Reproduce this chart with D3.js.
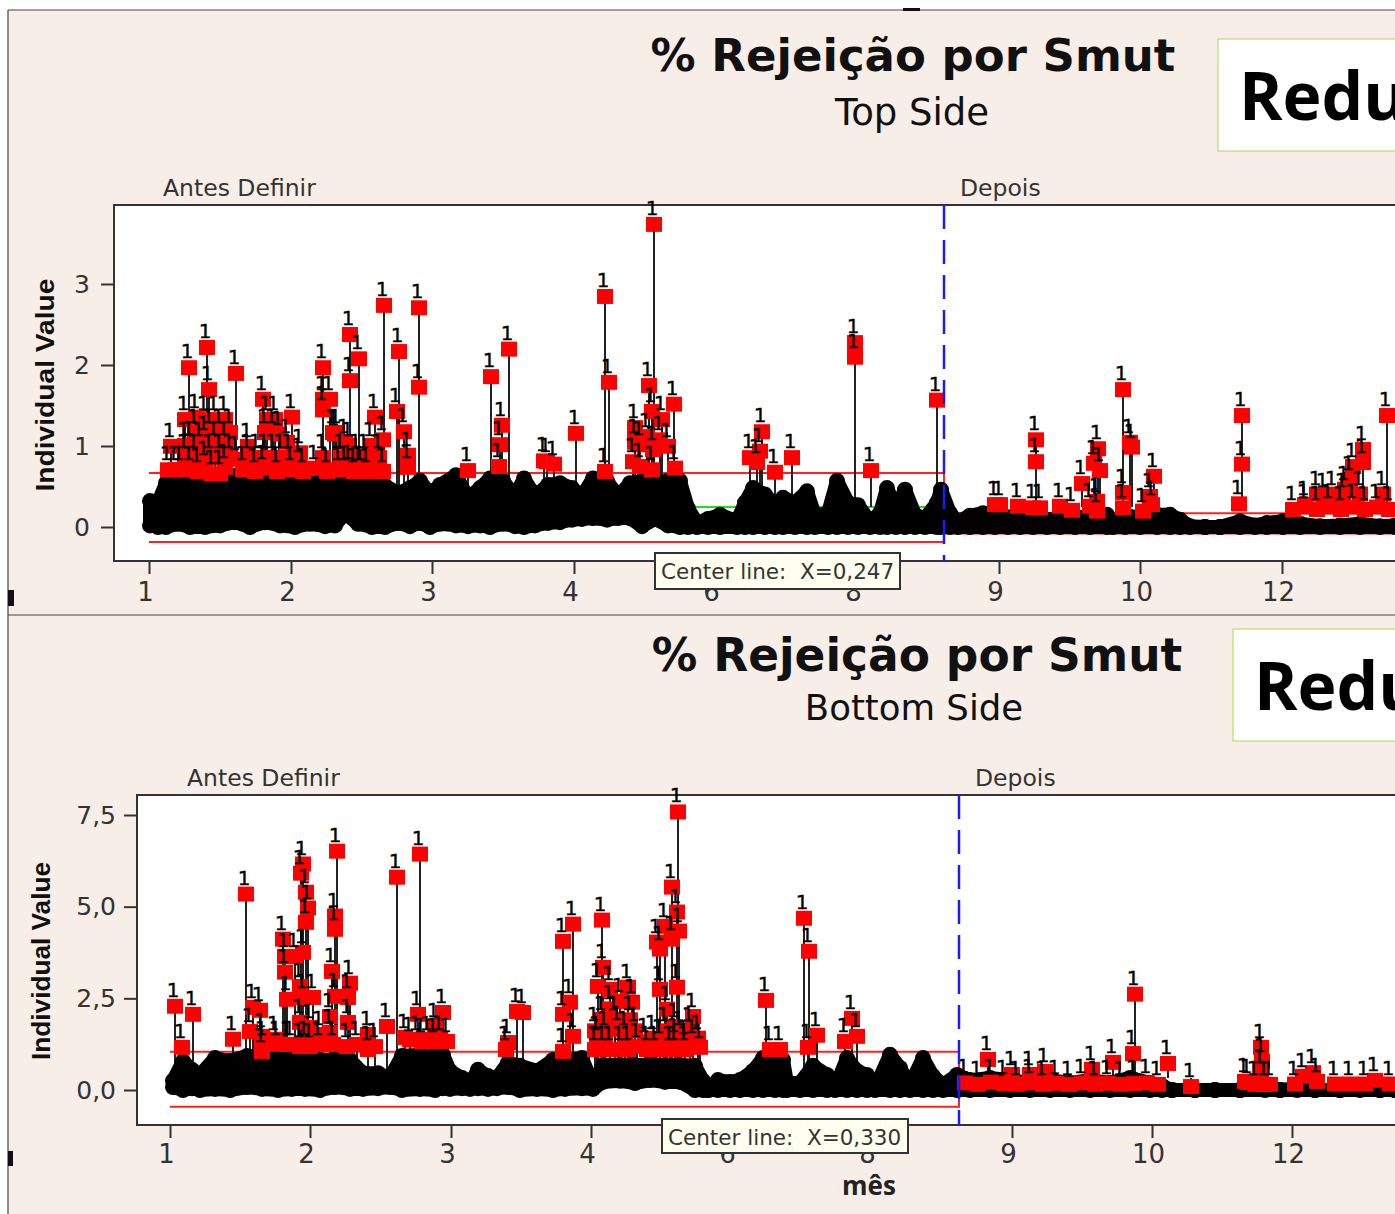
<!DOCTYPE html>
<html>
<head>
<meta charset="utf-8">
<title>% Rejeição por Smut</title>
<script src="https://cdn.jsdelivr.net/npm/d3@7"></script>
<style>
html, body { margin: 0; padding: 0; background: #fff; overflow: hidden; }
text { fill: #222; }
</style>
</head>
<body>
<svg id="chart" width="1395" height="1214"></svg>
<script>
var chartTitle = "% Rejeição por Smut";
var monthLabels = ["1", "2", "3", "4", "6", "8", "9", "10", "12"];

// TOP SIDE
var topTicksObs = [0, 142, 283, 425, 566, 708, 850, 991, 1133];
var topTicksY = [0, 1, 2, 3];
var topCenter = 0.247;
var topUcl = [0.667, 0.17];
var topLcl = [-0.185, -0.08];
var topCl = [0.247, 0.06];
var topPhaseObs = 795;

var topMassObs = [1, 9, 17, 29, 41, 56, 71, 86, 101, 116, 131, 146, 161, 176, 186, 196, 209, 223, 236, 249, 261, 271, 281, 291, 307, 319, 331, 341, 354, 366, 375, 386, 399, 411, 423, 433, 444, 458, 469, 481, 493, 506, 519, 531, 539, 548, 559, 571, 588, 596, 604, 616, 626, 634, 646, 658, 666, 679, 688, 699, 709, 721, 731, 738, 747, 756, 766, 776, 788, 792, 801, 809, 821, 834, 846, 859, 871, 884, 898, 911, 926, 941, 958, 964, 976, 991, 1008, 1021, 1031, 1041, 1056, 1071, 1091, 1106, 1118, 1134, 1151, 1171, 1191, 1211, 1231, 1246];
var topMassHi = [.32, .30, .54, .54, .57, .54, .57, .63, .54, .57, .54, .57, .54, .57, .54, .57, .54, .51, .51, .42, .48, .57, .41, .52, .64, .36, .48, .60, .57, .38, .60, .38, .52, .54, .48, .38, .60, .57, .38, .54, .57, .54, .57, .57, .23, .05, .10, .15, .07, .30, .48, .40, .27, .36, .30, .44, .14, .17, .57, .30, .27, .07, .17, .48, .23, .46, .15, .11, .30, .46, .17, .07, .14, .17, .17, .12, .14, .15, .09, .12, .11, .14, .15, .05, .15, .11, .15, .15, .09, .01, 0, 0, .07, .02, .05, .07, .04, .01, .02, .04, .01, .02];
var topMassLo = [.02, 0, 0, .04, 0, 0, .02, .06, 0, .06, .02, 0, .04, .01, .02, .17, .04, 0, 0, .05, .01, .05, 0, .04, .02, .01, .02, 0, .04, .01, 0, .02, .05, .06, .09, .10, .11, .09, .11, .11, .01, .10, .02, 0, 0, 0, 0, 0, 0, 0, 0, 0, 0, 0, 0, 0, 0, 0, 0, 0, 0, 0, 0, 0, 0, 0, 0, 0, 0, 0, 0, 0, 0, 0, 0, 0, 0, 0, 0, 0, 0, 0, 0, 0, 0, 0, 0, 0, 0, 0, 0, 0, 0, 0, 0, 0, 0, 0, 0, 0, 0, 0];

var topRedObs = [40, 58, 60, 87, 235, 270, 250, 270, 201, 210, 201, 174, 174, 181, 174, 248, 255, 259, 259, 234, 234, 226, 342, 360, 353, 351, 350, 319, 395,
  143, 114, 36, 22, 19, 26, 31, 41, 41, 49, 47, 56, 56, 56, 63, 66, 66, 71, 76, 76, 76, 87,
  36, 46, 51, 61, 71, 81, 81, 61, 71, 46, 36,
  94, 99, 106, 114, 118, 126, 128, 130, 138, 142, 151, 154, 166, 178, 190, 200, 205, 212, 218, 186, 196, 196, 210,
  99, 108, 116, 116, 124, 124, 132, 140, 150, 174, 184, 188, 192, 200, 208, 216, 222, 230,
  505, 456, 460, 427, 398, 405, 456, 500, 525, 513, 486, 486, 503, 484, 491, 503, 504, 519, 526, 498, 491, 511,
  706, 706, 722, 788, 613, 601, 611, 608, 626, 643,
  974, 887, 887, 846, 851, 869, 884, 891, 911, 923, 933, 949, 945, 951, 948, 941, 948, 974, 974, 981, 983, 994, 1005, 1001, 1003, 1093, 1093, 1090, 1238,
  1144, 1156, 1168, 1180, 1192, 1204, 1216, 1228, 1240, 1168, 1184, 1196, 1204, 1214, 1214, 1201, 1194, 1234, 1211, 1175, 1156];
var topRedVal = [1.96, 2.21, 1.69, 1.89, 2.73, 2.70, 2.16, 1.72, 2.37, 2.07, 1.80, 1.96, 1.57, 1.57, 1.44, 1.42, 1.17, .88, .73, .68, 1.07, 1.35, 1.85, 2.19, 1.25, 1.01, .74, .69, .81,
  1.35, 1.57, 1.32, .99, .70, .70, .70, .70, 1.01, .68, 1.35, 1.32, 1.07, .77, .65, 1.32, 1.01, .65, 1.32, 1.01, .73, .83,
  1.0, 1.16, 1.0, 1.16, 1.16, 1.16, .85, .85, .85, .85, .85,
  .70, .99, .68, .72, 1.32, 1.32, .68, 1.14, 1.04, .70, .91, .68, .72, .68, .70, .72, .68, .70, .68, 1.14, 1.04, .70, .70,
  .85, .85, .85, 1.16, 1.16, .85, .85, .85, .80, .85, 1.16, 1.16, .85, 1.0, .85, .85, 1.0, .85,
  3.73, 2.84, 1.78, 1.15, .80, .77, .68, 1.74, 1.51, 1.32, 1.22, 1.04, 1.42, .80, .74, .70, .95, .99, .72, 1.11, 1.01, 1.07,
  2.27, 2.09, .69, 1.56, 1.17, .85, .93, .79, .67, .85,
  1.69, 1.07, .80, .27, .27, .25, .23, .23, .25, .20, .53, .96, .78, .69, .31, .25, .19, .42, .23, 1.04, .98, .19, .62, .37, .27, 1.37, .77, .28, 1.37,
  .21, .24, .21, .24, .21, .24, .21, .24, .21, .40, .40, .46, .74, .95, .79, .58, .37, .40, .40, .37, .27];

// BOTTOM SIDE
var bottomTicksObs = [0, 140, 281, 421, 561, 701, 842, 982, 1122];
var bottomTicksY = [0, 2.5, 5, 7.5];
var bottomCenter = 0.33;
var bottomUcl = [1.04, 0.14];
var bottomLcl = [-0.46, 0];
var bottomCl = [0.33, 0.05];
var bottomPhaseObs = 789;

var bottomMassObs = [3, 13, 22, 30, 45, 60, 77, 92, 108, 122, 135, 150, 165, 180, 193, 208, 220, 232, 250, 265, 273, 280, 292, 300, 308, 318, 327, 338, 350, 367, 383, 395, 412, 423, 433, 450, 465, 480, 495, 510, 525, 533, 538, 548, 560, 570, 583, 593, 605, 613, 617, 630, 643, 657, 665, 677, 687, 697, 705, 720, 730, 740, 753, 763, 773, 787, 800, 820, 840, 860, 880, 900, 920, 940, 960, 980, 992, 1002, 1025, 1045, 1070, 1095, 1110, 1127, 1145, 1170, 1190, 1210, 1225];
var bottomMassHi = [.25, .79, .55, .41, .87, .79, .93, .93, .87, .82, .82, .82, .82, .82, .46, .46, .33, .93, .96, .96, .96, .52, .33, .19, .55, .38, .33, .74, .66, .52, .82, .82, .87, .14, .68, .68, .68, .68, .68, .68, .66, .25, 0, .27, .22, .27, .52, .87, .74, .82, .19, .19, .66, .41, .05, .87, .52, .41, .05, .96, .60, .14, .87, .38, .14, .41, .27, .33, .27, .19, .27, .19, .27, .19, .33, .19, .11, 0, 0, 0, 0, .11, 0, .05, 0, 0, .05, 0, 0];
var bottomMassLo = [.08, 0, .05, 0, .03, 0, .08, .03, 0, .03, .03, 0, .08, .03, .03, .05, .08, 0, .03, 0, .05, .03, .05, .03, .05, .03, .05, .08, 0, .03, 0, .03, .05, .03, .22, .25, .19, .27, .22, .22, 0, 0, 0, 0, 0, 0, 0, 0, 0, 0, 0, 0, 0, 0, 0, 0, 0, 0, 0, 0, 0, 0, 0, 0, 0, 0, 0, 0, 0, 0, 0, 0, 0, 0, 0, 0, 0, 0, 0, 0, 0, 0, 0, 0, 0, 0, 0, 0, 0];

var bottomRedObs = [5, 23, 12, 76, 63, 80, 83, 90, 92, 92, 105, 113, 115, 115, 117, 133, 131, 136, 138, 136, 133, 125, 130, 133, 143, 130, 140, 130, 140, 118,
  167, 165, 165, 162, 180, 165, 178, 160, 178, 160, 150, 177, 198, 198, 205, 217, 227, 250, 235, 248, 247, 258, 265, 273, 270, 277, 336, 338, 347, 353,
  93, 107, 121, 135, 149, 163, 187, 240, 252, 264,
  393, 403, 400, 393, 403, 393,
  508, 502, 507, 509, 495, 502, 487, 490, 507, 490, 497, 505, 523, 505, 490, 523, 530, 432, 433, 428, 440, 458, 462, 432, 433, 427, 450, 467, 477, 448, 425, 440, 458, 485, 515,
  435, 445, 455, 465, 475, 483, 440, 450, 460, 425, 510, 520, 528, 515, 495, 505, 500,
  596, 600, 610, 634, 639, 647, 638, 682, 687, 675,
  795, 808, 821, 834, 847, 860, 873, 886, 899, 912, 925, 938, 951, 964, 977, 988,
  965, 963, 943, 922, 818, 842, 998, 1021, 860, 875, 1091, 1092, 1091, 1078, 1095, 1075, 1085, 1100, 1133, 1143, 1147, 1205, 1165, 1180, 1195, 1220, 1125];
var bottomRedVal = [2.27, 2.05, 1.15, 5.33, 1.37, 1.58, 2.24, 2.16, 1.04, 1.45, 1.37, 4.10, 3.63, 3.20, 2.46, 6.15, 5.90, 5.38, 4.95, 4.56, 3.74, 3.63, 2.81, 2.51, 2.51, 1.83, 1.69, 1.17, 1.17, 1.23,
  6.50, 4.73, 4.37, 3.22, 2.90, 2.54, 2.51, 1.99, 1.83, 1.56, 1.50, 1.17, 1.50, 1.09, 1.17, 1.72, 5.79, 6.42, 1.42, 2.05, 1.37, 1.37, 1.72, 2.10, 1.37, 1.31, 1.09, 1.28, 2.13, 2.10,
  1.23, 1.23, 1.23, 1.23, 1.23, 1.23, 1.23, 1.35, 1.30, 1.30,
  4.04, 4.51, 2.38, 2.05, 1.45, 1.04,
  7.57, 5.52, 4.84, 4.32, 4.45, 4.10, 4.02, 3.83, 2.79, 2.73, 2.19, 1.72, 1.99, 1.09, 1.28, 1.28, 1.15, 4.62, 3.33, 2.81, 2.73, 2.79, 2.38, 1.91, 1.09, 1.37, 1.09, 1.17, 1.09, 1.64, 1.09, 1.09, 1.09, 1.09, 1.09,
  1.50, 1.90, 1.50, 1.60, 1.30, 1.40, 2.20, 2.40, 1.90, 1.60, 1.50, 1.60, 1.40, 1.25, 1.60, 1.30, 1.09,
  2.43, 1.09, 1.09, 4.67, 3.77, 1.48, 1.15, 1.94, 1.45, 1.31,
  .18, .14, .20, .16, .14, .18, .14, .17, .14, .18, .14, .17, .14, .16, .18, .14,
  2.60, .98, .74, .55, .82, .41, .71, .08, .41, .49, 1.15, .77, .46, .19, .14, .22, .14, .14, .36, .46, .22, .25, .15, .15, .15, .15, .15];

var panelBg = "#f6eee7";
var svg = d3.select("#chart");

svg.append("rect").attr("x", 8).attr("y", 10).attr("width", 1387).attr("height", 1204).attr("fill", panelBg);
svg.append("line").attr("x1", 8).attr("x2", 8).attr("y1", 10).attr("y2", 1214).attr("stroke", "#666").attr("stroke-width", 1.5);
svg.append("line").attr("x1", 8).attr("x2", 1395).attr("y1", 10).attr("y2", 10).attr("stroke", "#444").attr("stroke-width", 1);
svg.append("line").attr("x1", 8).attr("x2", 1395).attr("y1", 615).attr("y2", 615).attr("stroke", "#444").attr("stroke-width", 1);
// leftovers of the screenshot
svg.append("rect").attr("x", 8).attr("y", 590).attr("width", 6).attr("height", 16).attr("fill", "#111");
svg.append("rect").attr("x", 8).attr("y", 1151).attr("width", 5).attr("height", 15).attr("fill", "#111");
svg.append("rect").attr("x", 903).attr("y", 8).attr("width", 17).attr("height", 3).attr("fill", "#111");

function drawPanel(opt) {
	var x = d3.scaleLinear().domain(opt.xDomain).range(opt.xRange);
	var y = d3.scaleLinear().domain(opt.yDomain).range(opt.yRange);
	var r = 8, half = 8;
	var g = svg.append("g");

	// titles
	g.append("text").attr("x", opt.titleX).attr("y", opt.titleY).attr("text-anchor", "middle")
		.style("font", "bold " + opt.titleSize + "px 'DejaVu Sans'").style("fill", "#111").text(chartTitle);
	g.append("text").attr("x", opt.subX).attr("y", opt.subY).attr("text-anchor", "middle")
		.style("font", opt.subSize + "px 'DejaVu Sans'").style("fill", "#111").text(opt.subtitle);

	// green box
	g.append("rect").attr("x", opt.boxX).attr("y", opt.boxY).attr("width", 1395 - opt.boxX + 5).attr("height", 112)
		.attr("fill", "#fff").attr("stroke", "#a9d85a").attr("stroke-width", 1);
	g.append("text").attr("x", opt.boxX + 21).attr("y", opt.boxY + 81)
		.style("font", "bold 66px 'Open Sans'").style("fill", "#000").text("Redu");

	// stage labels
	g.append("text").attr("x", opt.stageX[0]).attr("y", opt.stageY).style("font", "23.5px 'DejaVu Sans'").style("fill", "#333").text("Antes Definir");
	g.append("text").attr("x", opt.stageX[1]).attr("y", opt.stageY).style("font", "23.5px 'DejaVu Sans'").style("fill", "#333").text("Depois");

	// plot area
	g.append("rect").attr("x", opt.xFrame).attr("y", opt.yFrame[0]).attr("width", 1395 - opt.xFrame + 5)
		.attr("height", opt.yFrame[1] - opt.yFrame[0]).attr("fill", "#fff").attr("stroke", "#333").attr("stroke-width", 2);

	// control limits
	var px = x(opt.phaseObs);
	[[opt.ucl, "#ff2020"], [opt.lcl, "#ff2020"], [opt.cl, "#22dd22"]].forEach(function (l) {
		g.append("path").attr("fill", "none").attr("stroke", l[1]).attr("stroke-width", 2)
			.attr("d", d3.line().curve(d3.curveStepAfter).x(function (d) { return x(d[0]); }).y(function (d) { return y(d[1]); })(
				[[opt.xDomain[0], l[0][0]], [opt.phaseObs, l[0][1]], [opt.xDomain[1], l[0][1]]]));
	});

	// out of control points, stems go first so they sink into the black
	var reds = opt.redObs.map(function (o, i) { return { o: o, v: opt.redVal[i] }; });
	g.append("g").selectAll("line").data(reds).join("line")
		.attr("x1", function (d) { return x(d.o); }).attr("x2", function (d) { return x(d.o); })
		.attr("y1", function (d) { return y(d.v); }).attr("y2", y(opt.center))
		.attr("stroke", "#222").attr("stroke-width", 2);

	// black mass of in control points
	var mass = opt.massObs.map(function (o, i) { return { o: o, hi: opt.massHi[i], lo: opt.massLo[i] }; });
	var massArea = d3.area()
		.x(function (d) { return x(d.o); })
		.y0(function (d) { return y(d.lo); })
		.y1(function (d) { return y(d.hi); });
	g.append("path").attr("d", massArea(mass)).attr("fill", "#000").attr("stroke", "#000")
		.attr("stroke-width", 14).attr("stroke-linejoin", "round");
	g.append("g").selectAll("circle").data(mass.concat(mass.map(function (d) { return { o: d.o, hi: d.lo }; }))).join("circle")
		.attr("cx", function (d) { return x(d.o); }).attr("cy", function (d) { return y(d.hi); })
		.attr("r", r).attr("fill", "#000");

	g.append("g").selectAll("rect").data(reds).join("rect")
		.attr("x", function (d) { return x(d.o) - half; }).attr("y", function (d) { return y(d.v) - half; })
		.attr("width", half * 2).attr("height", half * 2 - 1).attr("fill", "#ff0000");
	g.append("g").selectAll("text").data(reds).join("text")
		.attr("x", function (d) { return x(d.o) - 2; }).attr("y", function (d) { return y(d.v) - half - 2; })
		.attr("text-anchor", "middle").style("font", "20px 'DejaVu Sans'").style("fill", "#000")
		.style("stroke", "#000").style("stroke-width", 0.4).text("1");

	// stage line
	g.append("line").attr("x1", px).attr("x2", px).attr("y1", opt.yFrame[0]).attr("y2", opt.yFrame[1])
		.attr("stroke", "#1a1aff").attr("stroke-width", 2.5).attr("stroke-dasharray", "24,11");

	// axes
	var xAxis = d3.axisBottom(x).tickValues(opt.ticksObs).tickSize(13).tickSizeOuter(0)
		.tickFormat(function (d, i) { return monthLabels[i]; });
	var yAxis = d3.axisLeft(y).tickValues(opt.ticksY).tickSize(13).tickSizeOuter(0).tickFormat(opt.yFormat);
	var gx = g.append("g").attr("transform", "translate(0," + opt.yFrame[1] + ")").call(xAxis);
	var gy = g.append("g").attr("transform", "translate(" + opt.xFrame + ",0)").call(yAxis);
	gx.select(".domain").remove();
	gy.select(".domain").remove();
	g.selectAll(".tick line").attr("stroke", "#333").attr("stroke-width", 2);
	gx.selectAll("text").attr("dx", -4).attr("dy", opt.xLabelDy).style("font", "26px 'DejaVu Sans'").style("fill", "#333");
	gy.selectAll("text").attr("dx", opt.yLabelDx).style("font", "25px 'DejaVu Sans'").style("fill", "#333");

	// y title
	g.append("text").attr("transform", "translate(" + opt.yTitleX + "," + opt.yTitleY + ") rotate(-90)")
		.attr("text-anchor", "middle").attr("textLength", opt.yTitleLen).attr("lengthAdjust", "spacingAndGlyphs")
		.style("font", "bold 26px 'Liberation Sans'").style("fill", "#111").text("Individual Value");

	// tooltip
	g.append("rect").attr("x", opt.tipX).attr("y", opt.tipY).attr("width", opt.tipW).attr("height", opt.tipH)
		.attr("fill", "#fffff0").attr("stroke", "#333").attr("stroke-width", 2);
	g.append("text").attr("x", opt.tipX + 6).attr("y", opt.tipY + 26).style("font", "21.5px 'DejaVu Sans'").style("white-space", "pre")
		.style("fill", "#333").text("Center line:  X=" + opt.tipValue);
}

drawPanel({
	subtitle: "Top Side", titleX: 913, titleY: 71, titleSize: 45, subX: 912, subY: 125, subSize: 37,
	boxX: 1218, boxY: 39, stageX: [163, 960], stageY: 196,
	xFrame: 114, yFrame: [205, 561], xLabelDy: 24, yLabelDx: -8,
	xDomain: [0, 1246], xRange: [149, 1395], yDomain: [0, 3], yRange: [527, 284],
	ticksObs: topTicksObs, ticksY: topTicksY, yFormat: d3.format("d"),
	center: topCenter, ucl: topUcl, lcl: topLcl, cl: topCl, phaseObs: topPhaseObs,
	massObs: topMassObs, massHi: topMassHi, massLo: topMassLo,
	redObs: topRedObs, redVal: topRedVal,
	yTitleX: 54, yTitleY: 385, yTitleLen: 213, tipX: 655, tipY: 553, tipW: 245, tipH: 36, tipValue: "0,247"
});

drawPanel({
	subtitle: "Bottom Side", titleX: 917, titleY: 671, titleSize: 45.5, subX: 914, subY: 720, subSize: 35.5,
	boxX: 1233, boxY: 629, stageX: [187, 975], stageY: 786,
	xFrame: 137, yFrame: [795, 1125], xLabelDy: 22, yLabelDx: -5,
	xDomain: [0, 1225], xRange: [170, 1395], yDomain: [0, 7.5], yRange: [1090, 815],
	ticksObs: bottomTicksObs, ticksY: bottomTicksY, yFormat: function (d) { return d3.format(".1f")(d).replace(".", ","); },
	center: bottomCenter, ucl: bottomUcl, lcl: bottomLcl, cl: bottomCl, phaseObs: bottomPhaseObs,
	massObs: bottomMassObs, massHi: bottomMassHi, massLo: bottomMassLo,
	redObs: bottomRedObs, redVal: bottomRedVal,
	yTitleX: 50, yTitleY: 961, yTitleLen: 198, tipX: 662, tipY: 1119, tipW: 246, tipH: 34, tipValue: "0,330"
});

svg.append("text").attr("x", 869).attr("y", 1195).attr("text-anchor", "middle")
	.style("font", "bold 26px 'Open Sans'").style("fill", "#222").text("mês");
</script>
</body>
</html>
